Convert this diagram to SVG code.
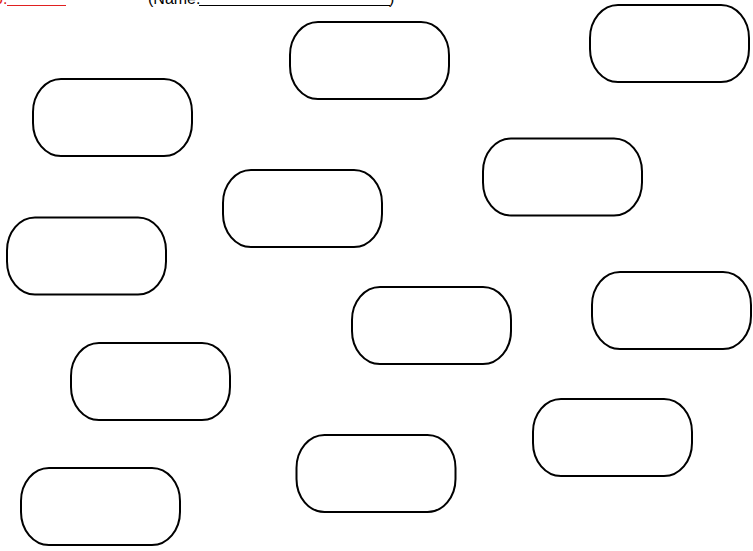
<svg xmlns="http://www.w3.org/2000/svg" width="753" height="551" viewBox="0 0 753 551">
<style>
.n{fill:#fff;stroke:#000;stroke-width:2}
.t{font-family:"Liberation Sans",Arial,sans-serif;font-size:16px}
</style>
<defs>
<rect id="term" class="n" x="0" y="0" width="159" height="77" rx="28" ry="33"/>
</defs>
<rect width="753" height="551" fill="#fff"/>
<g id="header">
<text class="t" x="-6" y="4" fill="#e02020">o.</text>
<line x1="7" y1="5.5" x2="66" y2="5.5" stroke="#e02020" stroke-width="1"/>
<text class="t" x="148" y="4" fill="#000">(Name:</text>
<line x1="199" y1="5.5" x2="390" y2="5.5" stroke="#000" stroke-width="1"/>
<text class="t" x="389" y="4" fill="#000">)</text>
</g>
<g id="connectors"></g>
<g id="node1"><use href="#term" x="290" y="22"/></g>
<g id="node2"><use href="#term" x="590" y="5"/></g>
<g id="node3"><use href="#term" x="33" y="79"/></g>
<g id="node4"><use href="#term" x="483" y="138.5"/></g>
<g id="node5"><use href="#term" x="223" y="170"/></g>
<g id="node6"><use href="#term" x="7" y="217.5"/></g>
<g id="node7"><use href="#term" x="592" y="272"/></g>
<g id="node8"><use href="#term" x="352" y="287"/></g>
<g id="node9"><use href="#term" x="71" y="343"/></g>
<g id="node10"><use href="#term" x="533" y="399"/></g>
<g id="node11"><use href="#term" x="296.5" y="435"/></g>
<g id="node12"><use href="#term" x="21" y="468"/></g>
</svg>
